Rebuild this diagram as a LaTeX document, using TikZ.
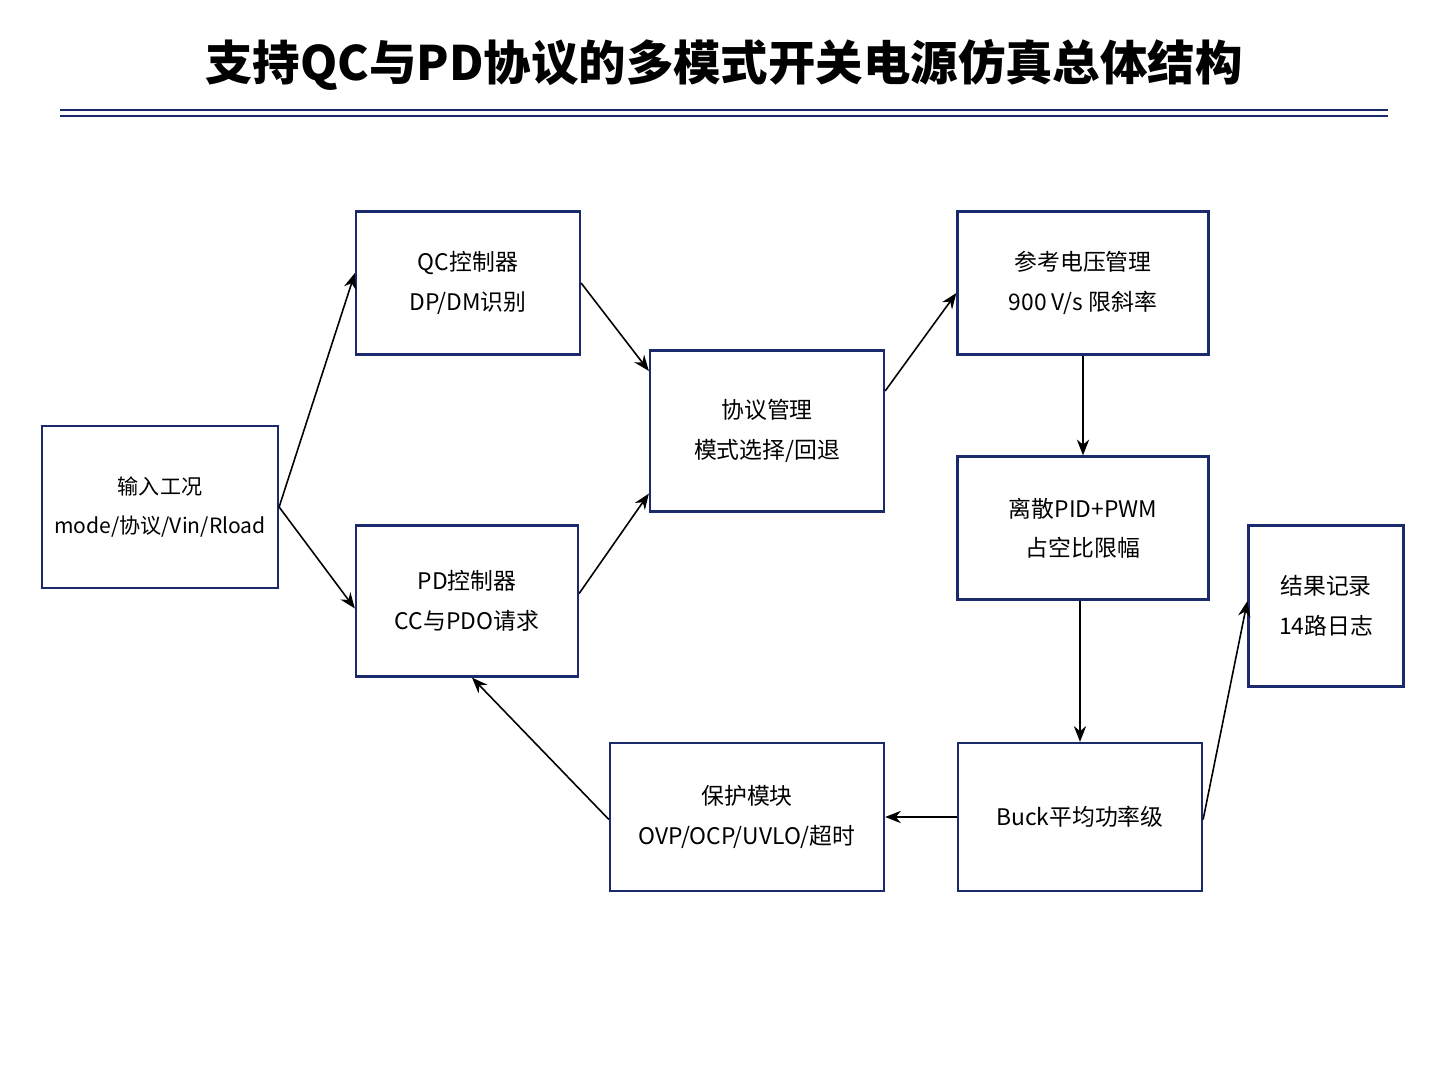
\documentclass[tikz,border=0pt]{standalone}
\usepackage{fontspec}
\setmainfont{Noto Sans CJK SC}
\usetikzlibrary{positioning,arrows.meta}
\definecolor{navy}{HTML}{1B2A6B}
\begin{document}
\begin{tikzpicture}[x=0.02cm,y=-0.02cm,
  box/.style={draw=navy,line width=1.3pt,align=center,font=\fontsize{13}{22.5}\selectfont,inner sep=0pt},
  link/.style={-{Stealth[length=9pt,width=7pt]},line width=0.9pt}]
  \useasboundingbox (0,0) rectangle (1448,1086);
  % title
  \node (title) at (724,65) {\fontsize{27}{32}\selectfont\bfseries 支持QC与PD协议的多模式开关电源仿真总体结构};
  \draw[navy,line width=1.2pt] (60,110) -- (1388,110);
  \draw[navy,line width=1.2pt] (60,116) -- (1388,116);
  % boxes
  \node[box,minimum width=4.72cm,minimum height=3.24cm,font=\fontsize{12}{22.5}\selectfont] (inp) at (160,507) {输入工况\\mode/协议/Vin/Rload};
  \node[box,minimum width=4.48cm,minimum height=2.86cm] (qc) at (468,283) {QC控制器\\DP/DM识别};
  \node[box,minimum width=4.44cm,minimum height=3.02cm] (pd) at (467,601) {PD控制器\\CC与PDO请求};
  \node[box,minimum width=4.68cm,minimum height=3.22cm] (proto) at (767,431) {协议管理\\模式选择/回退};
  \node[box,minimum width=5.02cm,minimum height=2.86cm] (vref) at (1083,283) {参考电压管理\\900 V/s 限斜率};
  \node[box,minimum width=5.02cm,minimum height=2.86cm] (pid) at (1083,528) {离散PID+PWM\\占空比限幅};
  \node[box,minimum width=4.88cm,minimum height=2.96cm] (buck) at (1080,817) {Buck平均功率级};
  \node[box,minimum width=5.48cm,minimum height=2.96cm] (prot) at (747,817) {保护模块\\OVP/OCP/UVLO/超时};
  \node[box,minimum width=3.10cm,minimum height=3.22cm] (log) at (1326,606) {结果记录\\14路日志};
  % connectors
  \draw[link] (inp.east) -- ([yshift=0.2cm]qc.south west |- qc.west);
  \draw[link] (inp.east) -- ([yshift=-0.15cm]pd.west);
  \draw[link] (qc.east) -- ([yshift=1.2cm]proto.west);
  \draw[link] ([yshift=0.15cm]pd.east) -- ([yshift=-1.25cm]proto.west);
  \draw[link] ([yshift=0.8cm]proto.east) -- ([yshift=-0.2cm]vref.west);
  \draw[link] (vref) -- (pid);
  \draw[link] (pid.south -| buck.north) -- (buck.north);
  \draw[link] (buck.west) -- (prot.east);
  \draw[link] ([yshift=-0.05cm]prot.west) -- ([xshift=0.1cm]pd.south);
  \draw[link] ([yshift=-0.05cm]buck.east) -- ([yshift=0.1cm]log.west);
\end{tikzpicture}
\end{document}
